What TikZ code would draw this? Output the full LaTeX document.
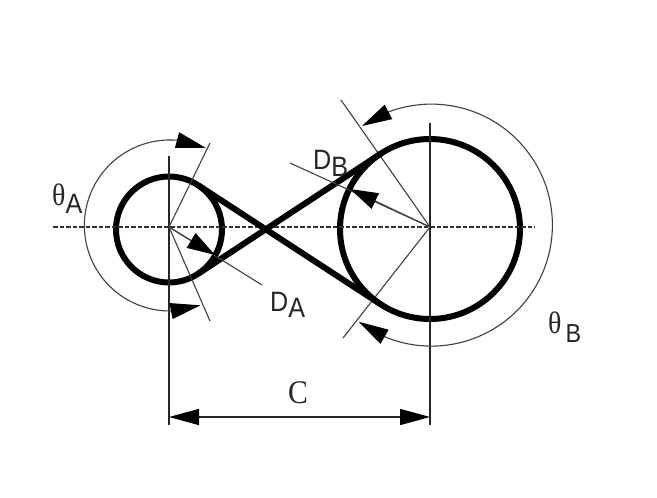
\documentclass[tikz,border=0pt]{standalone}
\usepackage{fontspec}
\setmainfont{Liberation Sans}
\newfontfamily\serifgr{Liberation Serif}
\usetikzlibrary{arrows.meta,bending}
\tikzset{
  x=1pt,y=-1pt,
  pulley/.style={circle,draw=black,line width=6pt,inner sep=0pt,outer sep=0pt,fill=none},
  belt/.style={line width=6pt,draw=black},
  thin/.style={line width=1.1pt,draw=black!75},
  thinb/.style={line width=1.5pt,draw=black!85},
  axisline/.style={line width=1.4pt,draw=black!80,dash pattern=on 4.5pt off 2pt},
  tiphead/.style={-{Triangle[length=28pt,width=17pt,color=black]}},
  bothhead/.style={{Triangle[length=30pt,width=16pt,color=black]}-{Triangle[length=30pt,width=16pt,color=black]}},
  lbl/.style={inner sep=0pt,font=\fontsize{28}{28}\selectfont,text=black!85,xscale=0.9},
  dimhead/.style={{Triangle[length=30pt,width=16pt,color=black]}-{Triangle[length=30pt,width=16pt,color=black]}}
}
\begin{document}
\begin{tikzpicture}
\useasboundingbox (0,0) rectangle (657,498);
\fill[white] (0,0) rectangle (657,498);
\coordinate (AC) at (169,227);
\coordinate (BC) at (430,227);
\node[pulley,minimum size=106pt] (A) at (169,229.5) {};
\node[pulley,minimum size=180pt] (B) at (430,229) {};
\coordinate (axL) at (53,227);
\coordinate (axR) at (535,227);
\draw[axisline] (axL) -- (axR);
\coordinate (AT) at (169,156);
\coordinate (AB) at (169,425);
\coordinate (BT) at (430,123);
\coordinate (BB) at (430,425);
\draw[thinb] (AT) -- (AB);
\draw[thinb] (BT) -- (BB);
\coordinate (Au) at (210,143);
\coordinate (Ad) at (210,321);
\coordinate (Bu) at (341,100);
\coordinate (Bd) at (343,338);
\draw[thin] (AC) -- (Au);
\draw[thin] (AC) -- (Ad);
\draw[thin] (BC) -- (Bu);
\draw[thin] (BC) -- (Bd);
\draw[belt] (A.56.8) -- (B.-123.2);
\draw[belt] (A.-56.8) -- (B.123.2);
\coordinate (DAend) at (262,285);
\coordinate (DBend) at (290,163);
\coordinate (DAtip) at (215,255);
\coordinate (DBtip) at (350,189);
\draw[thin] (AC) -- (DAend);
\draw[thin] (BC) -- (DBend);
\draw[thin,tiphead] (AC) -- (DAtip);
\draw[thin,tiphead] (BC) -- (DBtip);
\coordinate (arcAs) at (206,148);
\coordinate (arcBs) at (362,126);
\draw[thin,bothhead] (arcAs) arc[start angle=65,end angle=291,radius=85.5pt];
\draw[thin,bothhead] (arcBs) arc[start angle=125,end angle=-127,radius=121pt];
\coordinate (dimL) at (169,417);
\coordinate (dimR) at (430,417);
\draw[thinb,dimhead] (dimL) -- (dimR);
\node[lbl,anchor=center,font=\serifgr\fontsize{33}{33}\selectfont] (C) at (298,393) {C};
\node[lbl,anchor=base west] (thA) at (52,205) {{\serifgr\fontsize{31}{31}\selectfont θ}\raisebox{-8pt}{A}};
\node[lbl,anchor=base west] (thB) at (548,333) {{\serifgr\fontsize{31}{31}\selectfont θ}\,\raisebox{-9pt}{\fontsize{26}{26}\selectfont B}};
\node[lbl,anchor=base west] (DA) at (270,311) {D\raisebox{-6pt}{A}};
\node[lbl,anchor=base west] (DB) at (313,169) {D\raisebox{-7pt}{B}};
\end{tikzpicture}
\end{document}
